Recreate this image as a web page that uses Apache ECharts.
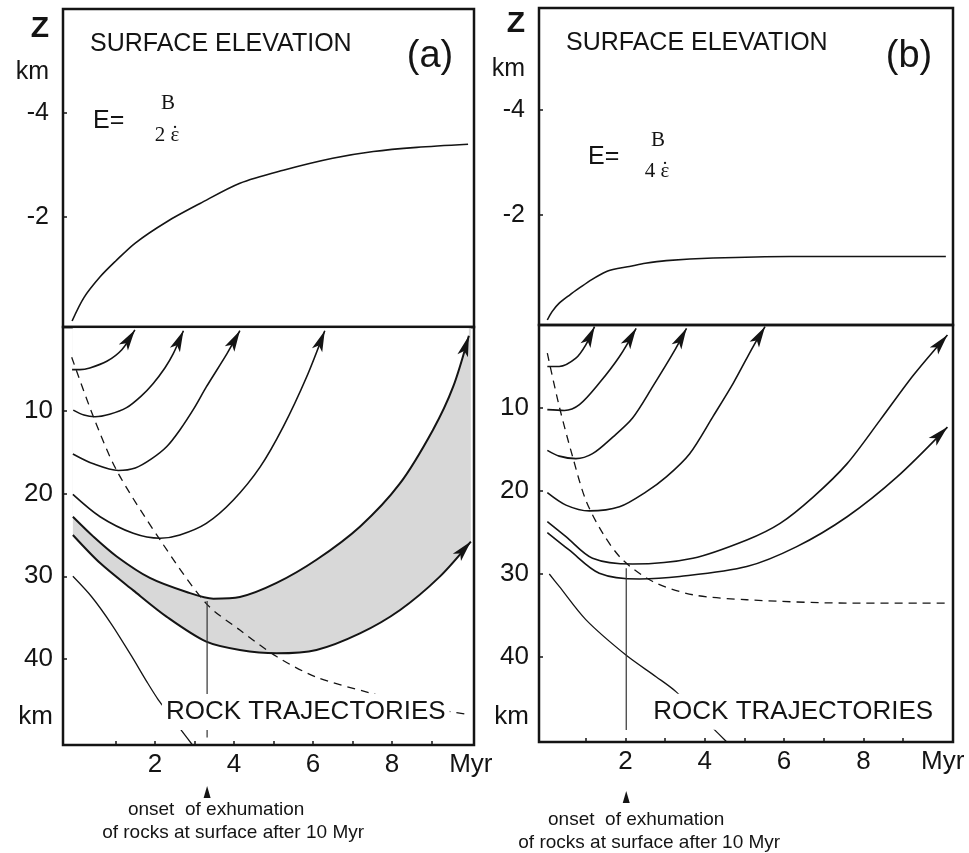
<!DOCTYPE html>
<html><head><meta charset="utf-8">
<script src="https://cdn.jsdelivr.net/npm/echarts@6/dist/echarts.min.js"></script>
<style>html,body{margin:0;padding:0;background:#fff}#c{width:969px;height:853px}</style>
</head><body><div id="c"></div>
<script>
// ---------- DATA (time in Myr, depth Z in km, positive downward) ----------
// Panel (a): surface elevation (Z, negative = above sea level)
const surfA = [[-0.1,0],[0.2,-0.45],[0.61,-0.85],[1.0,-1.15],[1.5,-1.5],[2.3,-1.91],[3.14,-2.26],[4.15,-2.65],[5.25,-2.9],[6.5,-3.13],[7.53,-3.26],[8.63,-3.34],[9.93,-3.40]];
// Panel (a): rock trajectories
const a1 = [[-0.1,5.0],[0.1,5.0],[0.35,4.8],[0.78,4.0],[1.16,2.6],[1.49,0.2]];
const a2 = [[-0.07,9.9],[0.2,10.5],[0.48,10.7],[0.85,10.4],[1.28,9.6],[1.65,8.2],[1.95,6.7],[2.25,4.8],[2.46,3.1],[2.72,0.3]];
const a3 = [[-0.08,15.2],[0.44,16.4],[1.07,17.2],[1.5,16.9],[1.91,15.8],[2.3,14.3],[2.63,12.3],[3.0,9.6],[3.3,7.1],[3.82,3.1],[4.15,0.3]];
const a4 = [[-0.08,20.1],[0.61,22.8],[1.45,24.8],[2.13,25.4],[2.63,25.0],[3.3,23.6],[3.98,20.8],[4.66,16.8],[5.25,11.9],[5.84,5.9],[6.3,0.3]];
const a5 = [[-0.08,22.8],[0.44,25.2],[1.03,27.6],[1.87,30.2],[2.8,31.9],[3.48,32.7],[4.15,32.5],[5.08,30.8],[6.09,28.0],[7.19,24.0],[8.2,18.8],[9.04,12.3],[9.55,7.1],[9.95,0.9]];
const a6 = [[-0.08,25.0],[0.61,28.4],[1.45,31.7],[2.3,34.9],[3.3,37.9],[4.15,38.9],[5.08,39.3],[6.09,38.9],[7.19,36.9],[8.2,34.1],[9.2,30.1],[10.0,25.8]];
const a7 = [[-0.08,30.0],[0.4,32.5],[0.9,35.8],[1.4,39.6],[1.8,42.8],[2.08,44.9],[2.4,46.9],[2.63,48.4],[2.95,50.4]];
const dashA = [[-0.11,3.5],[0.44,10.7],[1.03,17.2],[2.13,25.6],[3.3,33.3],[4.15,36.5],[5.08,39.7],[6.09,42.2],[7.44,44.1],[8.5,45.5],[9.9,46.7]];
const onsetA = 3.32;             // Myr
const onsetLineA = [[3.32,33.0],[3.32,49.5]];

// Panel (b): surface elevation
const surfB = [[0.03,0],[0.15,-0.16],[0.33,-0.32],[0.6,-0.48],[0.84,-0.61],[1.15,-0.77],[1.51,-0.92],[1.8,-0.98],[2.1,-1.02],[2.5,-1.08],[3.03,-1.13],[4.21,-1.18],[6.15,-1.21],[10.08,-1.21]];
// Panel (b): rock trajectories
const b1 = [[0.03,5.0],[0.33,5.0],[0.75,4.0],[1.0,2.4],[1.22,0.2]];
const b2 = [[0.03,10.2],[0.46,10.3],[0.84,9.6],[1.34,7.0],[1.85,3.8],[2.27,0.4]];
const b3 = [[0.03,15.1],[0.33,15.8],[0.75,16.1],[1.17,15.5],[1.68,13.5],[2.18,11.2],[2.69,7.4],[3.2,3.4],[3.54,0.4]];
const b4 = [[0.03,20.2],[0.5,21.7],[1.09,22.4],[1.85,21.9],[2.52,20.1],[3.03,18.3],[3.62,15.5],[4.21,11.0],[4.72,7.0],[5.22,2.6],[5.52,0.2]];
const b5 = [[0.03,23.7],[0.5,25.5],[1.17,28.1],[2.18,28.8],[3.7,28.1],[5.06,25.9],[5.9,23.9],[6.74,20.7],[7.59,16.7],[8.43,11.4],[9.27,6.0],[10.12,1.2]];
const b6 = [[0.03,25.0],[0.58,27.1],[1.34,29.9],[2.35,30.6],[3.37,30.3],[5.06,29.1],[6.32,26.7],[7.59,23.1],[8.85,18.3],[10.12,12.3]];
const b7 = [[0.08,30.0],[0.33,31.5],[1.0,35.5],[2.02,39.8],[2.78,42.4],[3.28,44.2],[4.21,48.6],[4.55,50.2]];
const dashB = [[0.03,3.4],[0.33,9.8],[0.67,15.9],[1.0,21.1],[1.43,25.1],[1.93,28.3],[2.69,30.9],[3.7,32.5],[5.06,33.1],[7.59,33.5],[10.08,33.5]];
const onsetB = 2.02;
const onsetLineB = [[2.02,29.3],[2.02,48.8]];

// Tick labels
const xTickValues = [2,4,6,8,10];          // 10 shown as "Myr"
const xMinorTicks = [1,2,3,4,5,6,7,8,9];
const depthTickValues = [10,20,30,40];
const elevTickValues = [-4,-2];
const labelTrajA = [[5.82,46.4]];
const labelTrajB = [[6.23,46.6]];

// ---------- STYLE ----------
const FONT = "'Liberation Sans', Arial, Helvetica, sans-serif";
const SERIF = "'Liberation Serif', 'DejaVu Serif', serif";
const INK = '#141414';

const chart = echarts.init(document.getElementById('c'));

function gridCfg(left, top, width, height) {
  return {left, top, width, height, show: true, borderColor: INK, borderWidth: 2.5, backgroundColor: 'transparent', containLabel: false};
}
function xAx(gi, min, max, labels) {
  return {
    gridIndex: gi, type: 'value', min, max, position: 'bottom',
    axisLine: {show: false, onZero: false}, splitLine: {show: false},
    axisTick: labels ? {show: true, inside: true, length: 4, customValues: xMinorTicks, lineStyle: {color: INK, width: 1.5}} : {show: false},
    axisLabel: labels ? {show: true, customValues: xTickValues, margin: 7, fontSize: 26, fontFamily: FONT, color: INK,
      formatter: v => (v >= 10 ? 'Myr' : String(v))} : {show: false}
  };
}
function yElev(gi, min, max, zPos, kmPos) {
  return {
    gridIndex: gi, type: 'value', inverse: true, min, max, position: 'left',
    axisLine: {show: false, onZero: false}, splitLine: {show: false},
    axisTick: {show: true, inside: true, length: 4, customValues: elevTickValues, lineStyle: {color: INK, width: 1.5}},
    axisLabel: {show: true, customValues: [zPos, kmPos].concat(elevTickValues), margin: 14, fontSize: 25, fontFamily: FONT, color: INK,
      formatter: v => (v === zPos ? '{z|Z}' : v === kmPos ? 'km' : String(v)),
      rich: {z: {fontSize: 30, fontWeight: 'bold', fontFamily: FONT, color: INK}}}
  };
}
function yDepth(gi, min, max, kmPos) {
  return {
    gridIndex: gi, type: 'value', inverse: true, min, max, position: 'left',
    axisLine: {show: false, onZero: false}, splitLine: {show: false},
    axisTick: {show: true, inside: true, length: 4, customValues: depthTickValues, lineStyle: {color: INK, width: 1.5}},
    axisLabel: {show: true, customValues: depthTickValues.concat([kmPos]), margin: 10, fontSize: 26, fontFamily: FONT, color: INK,
      formatter: v => (v === kmPos ? 'km' : String(v))}
  };
}
function line(data, xi, yi, extra) {
  return Object.assign({
    type: 'line', xAxisIndex: xi, yAxisIndex: yi, data, smooth: 0.3,
    symbol: 'none', silent: true, animation: false,
    lineStyle: {color: INK, width: 1.6}
  }, extra || {});
}
function arrows(curves, xi, yi) {
  return {
    type: 'custom', xAxisIndex: xi, yAxisIndex: yi, animation: false, silent: true, z: 4,
    data: curves.map((c, i) => [c[c.length - 1][0], c[c.length - 1][1], i]),
    renderItem: function (params, api) {
      const c = curves[params.dataIndex];
      const n = c.length;
      const p1 = api.coord(c[n - 2]);
      const p2 = api.coord(c[n - 1]);
      const ang = Math.atan2(p2[1] - p1[1], p2[0] - p1[0]);
      const ca = Math.cos(ang), sa = Math.sin(ang);
      const L = 21, W = 5.5, N = 5;
      const pt = (a, b) => [p2[0] + a * ca - b * sa, p2[1] + a * sa + b * ca];
      return {type: 'polygon', shape: {points: [pt(0, 0), pt(-L, W), pt(-L + N, 0), pt(-L, -W)]}, style: {fill: INK}};
    }
  };
}
function onsetNote(onset, depthMax, xi, yi, off) {
  return {
    type: 'custom', xAxisIndex: xi, yAxisIndex: yi, clip: false, animation: false, silent: true, z: 5,
    data: [[onset, depthMax]],
    renderItem: function (params, api) {
      const p = api.coord([api.value(0), api.value(1)]);
      const x = p[0], y = p[1];
      return {type: 'group', children: [
        {type: 'polygon', shape: {points: [[x, y + off.tip], [x - 3.5, y + off.tip + 12], [x + 3.5, y + off.tip + 12]]}, style: {fill: INK}},
        {type: 'text', x: x + off.dx1, y: y + off.l1, style: {text: 'onset  of exhumation', fontSize: 19, fontFamily: FONT, fill: INK, align: 'center', verticalAlign: 'middle'}},
        {type: 'text', x: x + off.dx2, y: y + off.l2, style: {text: 'of rocks at surface after 10 Myr', fontSize: 19, fontFamily: FONT, fill: INK, align: 'center', verticalAlign: 'middle'}}
      ]};
    }
  };
}
function trajLabel(data, xi, yi) {
  return {
    type: 'custom', xAxisIndex: xi, yAxisIndex: yi, data, z: 6, silent: true, animation: false, clip: false,
    renderItem: function (params, api) {
      const p = api.coord([api.value(0), api.value(1)]);
      return {type: 'text', x: p[0], y: p[1], z2: 10, style: {text: 'ROCK TRAJECTORIES', fontSize: 26, fontFamily: FONT, fill: INK,
        align: 'center', verticalAlign: 'middle', backgroundColor: '#ffffff', padding: [5, 4]}};
    }
  };
}

// Axis extents (chosen so that the frame matches the figure)
const A_X = [-0.33, 10.08], B_X = [-0.18, 10.26];
const A_ZUP = [-6, 0.115], B_ZUP = [-5.94, 0.095];
const A_DEP = [-0.15, 50.4], B_DEP = [0, 50.24];

function formulaText(xE, yE, xF, yB, yD, digit) {
  return [
    {type: 'text', x: xE, y: yE, style: {text: 'E=', fontSize: 25, fontFamily: FONT, fill: INK, verticalAlign: 'middle'}},
    {type: 'text', x: xF, y: yB, style: {text: 'B', fontSize: 21, fontFamily: SERIF, fill: INK, align: 'center', verticalAlign: 'middle'}},
    {type: 'text', x: xF - 1, y: yD, style: {text: digit + ' \u03B5', fontSize: 21, fontFamily: SERIF, fill: INK, align: 'center', verticalAlign: 'middle'}},
    {type: 'text', x: xF + 7, y: yD - 1, style: {text: '\u02D9', fontSize: 21, fontFamily: SERIF, fill: INK, align: 'center', verticalAlign: 'middle'}}
  ];
}

const option = {
  backgroundColor: '#fff',
  animation: false,
  grid: [
    gridCfg(63, 9, 411, 318),
    gridCfg(63, 327, 411, 418),
    gridCfg(539, 8, 414, 317),
    gridCfg(539, 325, 414, 417)
  ],
  xAxis: [
    xAx(0, A_X[0], A_X[1], false),
    xAx(1, A_X[0], A_X[1], true),
    xAx(2, B_X[0], B_X[1], false),
    xAx(3, B_X[0], B_X[1], true)
  ],
  yAxis: [
    yElev(0, A_ZUP[0], A_ZUP[1], -5.63, -4.79),
    yDepth(1, A_DEP[0], A_DEP[1], 47),
    yElev(2, B_ZUP[0], B_ZUP[1], -5.64, -4.78),
    yDepth(3, B_DEP[0], B_DEP[1], 47.2)
  ],
  graphic: [
    {type: 'text', x: 90, y: 44, style: {text: 'SURFACE ELEVATION', fontSize: 25, fontFamily: FONT, fill: INK, verticalAlign: 'middle'}},
    {type: 'text', x: 430, y: 57, style: {text: '(a)', fontSize: 38, fontFamily: FONT, fill: INK, align: 'center', verticalAlign: 'middle'}},
    {type: 'text', x: 566, y: 43, style: {text: 'SURFACE ELEVATION', fontSize: 25, fontFamily: FONT, fill: INK, verticalAlign: 'middle'}},
    {type: 'text', x: 909, y: 57, style: {text: '(b)', fontSize: 38, fontFamily: FONT, fill: INK, align: 'center', verticalAlign: 'middle'}}
  ].concat(formulaText(93, 121, 168, 103, 135, '2'), formulaText(588, 157, 658, 140, 171, '4')),
  series: [
    // panel (a) upper
    line(surfA, 0, 0),
    // panel (a) shaded band between a5 and a6
    line(a6, 1, 1, {lineStyle: {width: 0, color: 'transparent'}, areaStyle: {color: '#d8d8d8', opacity: 1}}),
    line(a5, 1, 1, {lineStyle: {width: 0, color: 'transparent'}, areaStyle: {color: '#ffffff', opacity: 1}}),
    line(a1, 1, 1), line(a2, 1, 1), line(a3, 1, 1), line(a4, 1, 1),
    line(a5, 1, 1, {lineStyle: {color: INK, width: 2}}), line(a6, 1, 1, {lineStyle: {color: INK, width: 2}}),
    line(a7, 1, 1, {lineStyle: {color: INK, width: 1.3}}),
    line(dashA, 1, 1, {lineStyle: {color: INK, width: 1.3, type: [8, 6]}}),
    line(onsetLineA, 1, 1, {smooth: false, lineStyle: {color: '#333', width: 1.2}}),
    arrows([a1, a2, a3, a4, a5, a6], 1, 1),
    trajLabel(labelTrajA, 1, 1),
    onsetNote(onsetA, A_DEP[1], 1, 1, {tip: 41, dx1: 9, l1: 65, dx2: 26, l2: 88}),
    // panel (b) upper
    line(surfB, 2, 2),
    // panel (b) lower
    line(b1, 3, 3), line(b2, 3, 3), line(b3, 3, 3), line(b4, 3, 3), line(b5, 3, 3), line(b6, 3, 3),
    line(b7, 3, 3, {lineStyle: {color: INK, width: 1.3}}),
    line(dashB, 3, 3, {lineStyle: {color: INK, width: 1.3, type: [8, 6]}}),
    line(onsetLineB, 3, 3, {smooth: false, lineStyle: {color: '#333', width: 1.2}}),
    arrows([b1, b2, b3, b4, b5, b6], 3, 3),
    trajLabel(labelTrajB, 3, 3),
    onsetNote(onsetB, B_DEP[1], 3, 3, {tip: 49, dx1: 10, l1: 78, dx2: 23, l2: 101})
  ]
};
chart.setOption(option);
</script></body></html>
